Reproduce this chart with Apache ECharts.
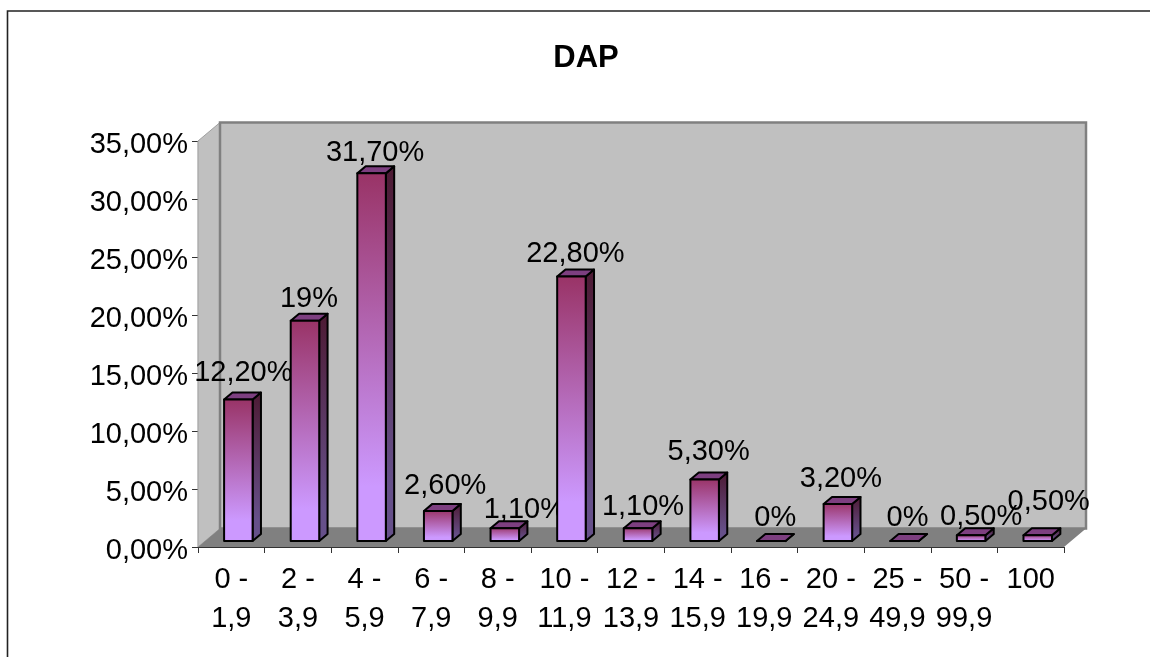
<!DOCTYPE html>
<html><head><meta charset="utf-8">
<style>html,body{margin:0;padding:0;background:#fff}#c{width:1150px;height:657px}</style>
<script src="https://cdn.jsdelivr.net/npm/echarts@6/dist/echarts.min.js"></script>
</head><body><div id="c"></div>
<script>
const categories = ['0 -\n1,9','2 -\n3,9','4 -\n5,9','6 -\n7,9','8 -\n9,9','10 -\n11,9','12 -\n13,9','14 -\n15,9','16 -\n19,9','20 -\n24,9','25 -\n49,9','50 -\n99,9','100'];
const values = [12.2,19,31.7,2.6,1.1,22.8,1.1,5.3,0,3.2,0,0.5,0.5];
const valueLabels = ['12,20%','19%','31,70%','2,60%','1,10%','22,80%','1,10%','5,30%','0%','3,20%','0%','0,50%','0,50%'];
// hand-placed data labels in the original: nudge from the bar's front-top centre
const labelNudgeX = [5,4,3.5,7,20,4,5,4,4,3,3,10,11];
const labelNudgeY = [-27,-22,-20,-25,-18,-23,-21,-28,-23,-25,-23,-18,-33];

const FONT = '"Liberation Sans", Arial, sans-serif';
const DX = 22, DY = 18.5;       // wall depth offset
const BAR_FRONT = 0.32, BAR_DEPTH = 0.38; // bar placement along the depth
const BAR_W = 28.5;

const grad = (a, b) => new echarts.graphic.LinearGradient(0, 0, 0, 1, [
  {offset: 0, color: a}, {offset: 0.85, color: b}, {offset: 1, color: b}]);

function poly(points, fill, stroke, lw) {
  return {type: 'polygon', shape: {points}, style: {fill, stroke: stroke || null, lineWidth: lw || 0}};
}

const chart = echarts.init(document.getElementById('c'), null, {renderer: 'canvas'});
chart.setOption({
  animation: false,
  backgroundColor: '#fff',
  title: {text: 'DAP', left: 581, top: 38, textAlign: 'center',
    textStyle: {fontFamily: FONT, fontSize: 31, fontWeight: 'bold', color: '#000'}},
  graphic: [{type: 'polyline', silent: true, z: 100,
    shape: {points: [[7.5, 657], [7.5, 11], [1150, 11]]},
    style: {stroke: '#222', lineWidth: 1.6, fill: null}}],
  grid: {left: 198, top: 141, width: 866, height: 406},
  xAxis: {type: 'category', data: categories, boundaryGap: true,
    axisLine: {lineStyle: {color: '#333', width: 1.2}},
    axisTick: {show: true, alignWithLabel: false, length: 6, lineStyle: {color: '#333'}},
    axisLabel: {interval: 0, fontFamily: FONT, fontSize: 29, color: '#000', lineHeight: 39, margin: 13, hideOverlap: false},
    splitLine: {show: false}},
  yAxis: {type: 'value', min: 0, max: 35, interval: 5,
    axisLine: {show: true, lineStyle: {color: '#333', width: 1.2}},
    axisTick: {show: true, length: 6, lineStyle: {color: '#333'}},
    axisLabel: {fontFamily: FONT, fontSize: 29, color: '#000', margin: 10, verticalAlign: 'top', lineHeight: 7,
      formatter: v => v.toFixed(2).replace('.', ',') + '%'},
    splitLine: {show: false}},
  series: [
    {type: 'custom', z: 1, silent: true, clip: false, data: [0],
     renderItem(params, api) {
       const r = params.coordSys;
       const x0 = r.x, x1 = r.x + r.width, y0 = r.y, y1 = r.y + r.height;
       return {type: 'group', children: [
         poly([[x0, y0], [x0 + DX, y0 - DY], [x0 + DX, y1 - DY], [x0, y1]], '#c0c0c0', '#a0a0a0', 1),
         poly([[x0 + DX, y0 - DY], [x1 + DX, y0 - DY], [x1 + DX, y1 - DY], [x0 + DX, y1 - DY]], '#c0c0c0', '#808080', 2.5),
         poly([[x0, y1], [x0 + DX, y1 - DY], [x1 + DX, y1 - DY], [x1, y1]], '#808080', null, 0)
       ]};
     }},
    {type: 'custom', z: 2, silent: true, clip: false,
     data: values.map((v, i) => [i, v]),
     encode: {x: 0, y: 1},
     renderItem(params, api) {
       const i = api.value(0), v = api.value(1);
       const top = api.coord([i, v]);
       const fx = DX * BAR_FRONT, fy = DY * BAR_FRONT;
       return {type: 'text', style: {text: valueLabels[i], x: top[0] + fx + labelNudgeX[i], y: top[1] - fy + labelNudgeY[i],
         textAlign: 'center', textVerticalAlign: 'middle', font: '29px ' + FONT, fill: '#000'}};
     }},
    {type: 'custom', z: 3, silent: true, clip: false,
     data: values.map((v, i) => [i, v]),
     encode: {x: 0, y: 1},
     renderItem(params, api) {
       const i = api.value(0), v = api.value(1);
       const base = api.coord([i, 0]), top = api.coord([i, v]);
       const fx = DX * BAR_FRONT, fy = DY * BAR_FRONT;
       const bx = DX * BAR_DEPTH, by = DY * BAR_DEPTH;
       const l = base[0] - BAR_W / 2 + fx, r = l + BAR_W;
       const b = base[1] - fy, t = top[1] - fy;
       const st = {stroke: '#000', lineWidth: 2, lineJoin: 'round'};
       const face = (pts, fill) => ({type: 'polygon', shape: {points: pts}, style: Object.assign({fill}, st)});
       return {type: 'group', children: [
         face([[r, b], [r + bx, b - by], [r + bx, t - by], [r, t]], grad('#4d1a33', '#66508a')),
         face([[l, t], [r, t], [r + bx, t - by], [l + bx, t - by]], '#7d3f80'),
         face([[l, b], [r, b], [r, t], [l, t]], grad('#993366', '#cc99ff'))
       ]};
     }}
  ]
});
</script></body></html>
